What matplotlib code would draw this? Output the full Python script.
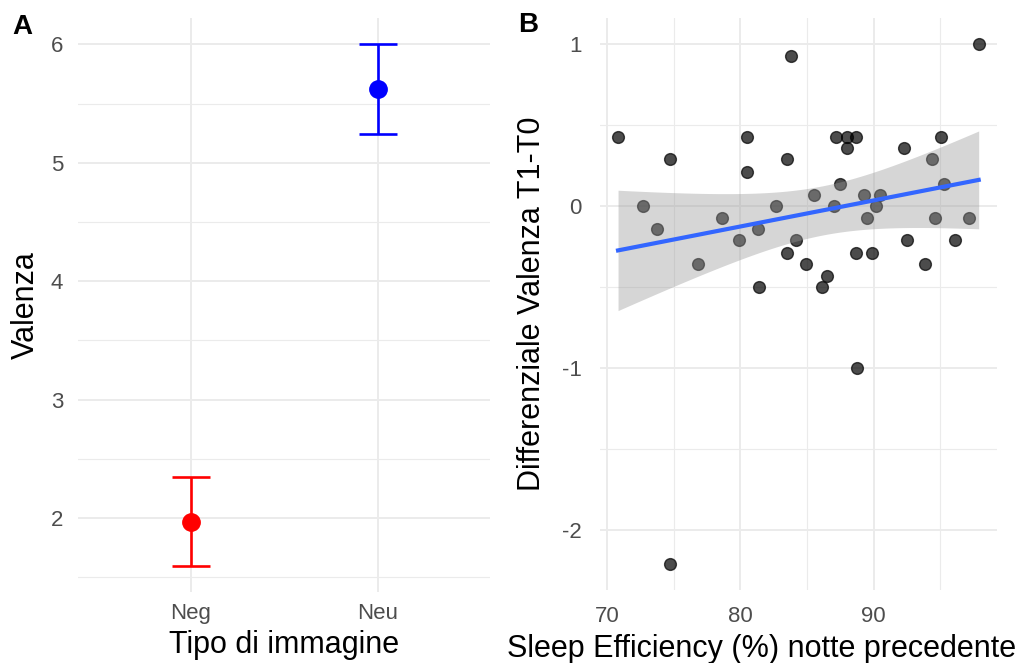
import numpy as np
import matplotlib
matplotlib.use("Agg")
import matplotlib.pyplot as plt

plt.rcParams["font.family"] = ["Liberation Sans", "DejaVu Sans"]
plt.rcParams["axes.unicode_minus"] = False

# -----------------------------
# Panel A data
# -----------------------------
categories = ["Neg", "Neu"]
means = [1.97, 5.62]
err_low = [1.595, 5.245]
err_high = [2.35, 6.0]
cat_colors = ["#FF0000", "#0000FF"]

# -----------------------------
# Panel B data
# -----------------------------
sleep_eff = [70.8, 72.7, 73.7, 74.7, 74.7, 76.8, 78.6, 79.9, 80.5, 80.5,
             81.3, 81.4, 82.7, 83.5, 83.5, 83.8, 84.2, 84.9, 85.5, 86.1,
             86.5, 87.0, 87.2, 87.5, 88.0, 88.0, 88.7, 88.7, 88.75, 89.3,
             89.5, 89.9, 90.2, 90.5, 92.3, 92.5, 93.9, 94.4, 94.6, 95.1,
             95.3, 96.1, 97.2, 97.9]
diff_val = [0.43, 0.00, -0.14, 0.29, -2.21, -0.36, -0.07, -0.21, 0.43, 0.21,
            -0.14, -0.50, 0.00, 0.29, -0.29, 0.93, -0.21, -0.36, 0.07, -0.50,
            -0.43, 0.00, 0.43, 0.14, 0.43, 0.36, 0.43, -0.29, -1.00, 0.07,
            -0.07, -0.29, 0.00, 0.07, 0.36, -0.21, -0.36, 0.29, -0.07, 0.43,
            0.14, -0.21, -0.07, 1.00]

GRID = "#EBEBEB"
TICK = "#4D4D4D"


def style_axes(ax, xpad, ypad):
    for s in ax.spines.values():
        s.set_visible(False)
    ax.tick_params(length=0, labelsize=16, colors=TICK)
    ax.tick_params(axis="x", pad=xpad)
    ax.tick_params(axis="y", pad=ypad)
    ax.grid(True, which="major", color=GRID, lw=1.4, zorder=0)
    ax.grid(True, which="minor", color=GRID, lw=0.8, zorder=0)
    ax.tick_params(which="minor", length=0)
    ax.set_axisbelow(True)


fig = plt.figure(figsize=(10.18, 6.63), dpi=100)

# -----------------------------
# Panel A
# -----------------------------
axA = fig.add_axes([0.0770, 0.1071, 0.4044, 0.8653])
style_axes(axA, 8, 11)
xpos = np.arange(1, len(categories) + 1)
for i in range(len(categories)):
    axA.errorbar(xpos[i], means[i],
                 yerr=[[means[i] - err_low[i]], [err_high[i] - means[i]]],
                 fmt="o", color=cat_colors[i], ms=12.5, lw=1.9,
                 capsize=13.5, capthick=1.9, zorder=3)
axA.set_xlim(0.4, 2.6)
ymin, ymax = min(err_low), max(err_high)
pad = (ymax - ymin) * 0.05
axA.set_ylim(ymin - pad, ymax + pad)
axA.set_xticks(xpos)
axA.set_xticklabels(categories)
axA.set_yticks([2, 3, 4, 5, 6])
axA.set_yticks([1.5, 2.5, 3.5, 4.5, 5.5], minor=True)
axA.xaxis.grid(False, which="minor")
axA.set_xlabel("Tipo di immagine", fontsize=22)
axA.xaxis.set_label_coords(0.5, -0.1063)
axA.xaxis.label.set_va("baseline")
axA.set_ylabel("Valenza", fontsize=22)
axA.yaxis.set_label_coords(-0.1278, 0.5)
axA.yaxis.label.set_va("center")

# -----------------------------
# Panel B
# -----------------------------
axB = fig.add_axes([0.5894, 0.1101, 0.3897, 0.8623])
style_axes(axB, 11.5, 13)
x = np.array(sleep_eff)
y = np.array(diff_val)
axB.scatter(x, y, s=72, color="black", alpha=0.7, linewidths=1.0,
            edgecolors="black", zorder=2)

# linear fit with 95% confidence band
n = len(x)
b1, b0 = np.polyfit(x, y, 1)
xs = np.linspace(x.min(), x.max(), 80)
ys = b0 + b1 * xs
resid = y - (b0 + b1 * x)
s_err = np.sqrt(np.sum(resid ** 2) / (n - 2))
se = s_err * np.sqrt(1 / n + (xs - x.mean()) ** 2 / np.sum((x - x.mean()) ** 2))
t = 2.018  # t(0.975, df=42)
axB.fill_between(xs, ys - t * se, ys + t * se, color="#999999", alpha=0.4,
                 lw=0, zorder=3)
axB.plot(xs, ys, color="#3366FF", lw=3, zorder=4)

xr = x.max() - x.min()
yr = y.max() - y.min()
axB.set_xlim(x.min() - 0.05 * xr, x.max() + 0.05 * xr)
axB.set_ylim(y.min() - 0.05 * yr, y.max() + 0.05 * yr)
axB.set_xticks([70, 80, 90])
axB.set_xticks([75, 85, 95], minor=True)
axB.set_yticks([-2, -1, 0, 1])
axB.set_yticks([-1.5, -0.5, 0.5], minor=True)
axB.set_xlabel("Sleep Efficiency (%) notte precedente", fontsize=22)
axB.xaxis.set_label_coords(-0.2344, -0.117)
axB.xaxis.label.set_va("baseline")
axB.xaxis.label.set_ha("left")
axB.set_ylabel("Differenziale Valenza T1-T0", fontsize=22)
axB.yaxis.set_label_coords(-0.1714, 0.5)
axB.yaxis.label.set_va("center")

fig.text(22 / 1018, 1 - 27 / 663, "A", fontsize=20, fontweight="bold",
         ha="center", va="center")
fig.text(528 / 1018, 1 - 25 / 663, "B", fontsize=20, fontweight="bold",
         ha="center", va="center")

fig.savefig("out.png", dpi=100)
